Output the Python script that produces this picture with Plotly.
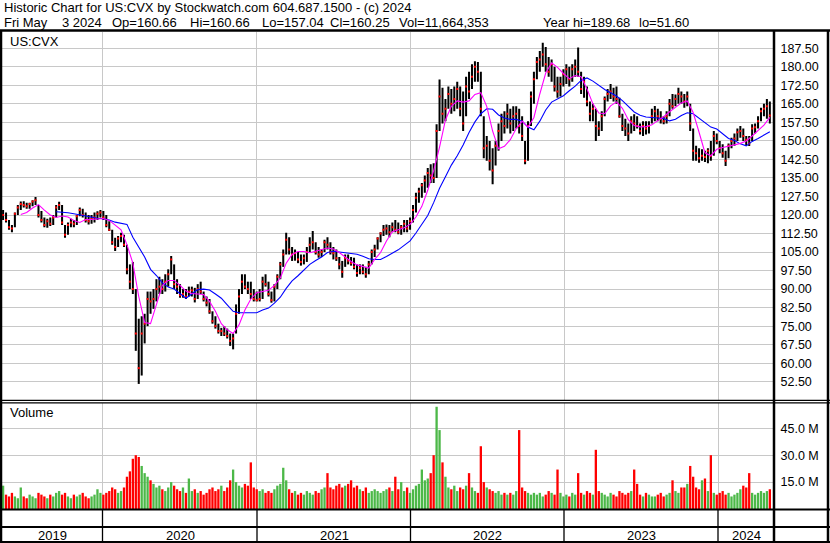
import pandas as pd
import plotly.graph_objects as go

# ---------------- data ----------------
week_start = "2019-05-10"          # weekly bars, one per Friday
high = [122,121,118,116,121,124,125.5,125.6,125,125,126,127.3,124,121.6,119,118.5,119,120,124,125.4,
        124,116,117,118.5,118,120,123,122.5,121,120,120,121,121.5,122,121.6,120,117.5,114,110.8,111.5,
        112.8,112,108,100,101,90,78,79,80,89,89,90,94,95,94,96,98,103.4,100,94,
        92,90,90,91,91,90.5,92,93,89,87,86,81,79,76,74.3,75,74,72,72,83.8,
        90,96,96,93,93,90,89,90,95,96,93,89,92,96,101,106,112.8,111,107,106,
        105,104,104,107,111,113.5,109,107,106,110,111,109,107,106,103,101.4,104,104,103,102.7,
        100,100,100,99,101.4,106,108,111,113,116,116.2,116,117,118,117,116,118,118,119,124,
        129,131,133,136,139,140.5,141,156.7,174.9,171.5,167,172,171,172,174,172,170,176,178,181,
        182.3,182,178,160,152,150,147,150,157,161,162,165,163,164,164,163,160,150,158,170,
        178,184,186.4,189.7,188,184,183,180,176,176,179,181,180,181,183,187.8,178,176,172,166,
        165,163,158,162,168,171,173,171.5,172,167.5,161,159,157,160,160.8,160,157,158,158,158,
        163,164.1,163,162,160,162,167,169,168.8,171.5,170,169,170,165,155,148,147,146.6,146,147,
        150,154,153,150,148.6,146,149,151.3,153,155,156,155,152,152,156.7,157,160,163.4,165,167,
        166]
low = [118,117,114,113,115,120,122,123,122.5,122.5,123.5,124,119,117,115,114.8,115.5,116,119,122,
       116,110.8,112,115,115,116,119.5,119,117,116.2,116.5,117,118,119,118,115,113.5,108,105.4,107,
       109,107,96,90,88,65,51.6,55,68,75,80,82,85,88,88,89,91,96,90,88,
       86.5,86.5,86,87,87,84.6,86,88,85,83,80,76,74,72,71,71,70,67,65.6,72,
       80,88,90,88,86,85,85,85,86,91,87,84.5,85,90,94,99,104,104,101.4,101.5,
       100.5,99.5,100,101,105,106,104,102.7,103,105,106,104,102,101.4,98,94.6,99,100,99.5,98,
       95,96,96,94.6,96,100,103,106,109,111.5,112,111,113,113,112.2,112,113,113,114,117,
       121,125,127,129,131,133,133,135,154,157,158,163,161,162,163,160,154,160,167,171,
       174,174,160,143,142,138,132.4,140,146,150,153,155,153,154,155,153,150,140.5,142,156,
       165,175,178,180,178,176,174,170,167.5,168,172,173,172,174,176,176,169,167.5,164,158,
       158,150,152,154,160,166,167,166,165,159.4,154,152,150,153,154,155,152.6,152,152.6,153,
       157,158,158,157,156.7,157,160,163,164,165,165,163.4,164,154,142,142,141.2,142,141.5,141,
       142,144,148.6,145,143.2,139.8,143,147,148,150,151.3,150,148,147.9,150,153,155,158,160,159,
       157]
close = [120,118,115,114.5,120.5,123,124.5,124,123.5,124.5,125.5,126,120,118,116,117.5,116.5,119,123,124,
         117,112,116,117,116.5,119.5,122,120,118,117.5,118.5,119,120.5,121,119,116,114,109,107,110.5,
         111.5,108,98,93,90,72,58,72,76,86,85,86,90,91,90,93,96,102,92,91,
         87.5,88,87,89,89.5,86,90,89,86,84.5,81,77,75,73,73,72,71,69,70,80,
         87,93,91,90,88,86,85.5,86,93,92,88,85.5,91,95,100,104,110,106,104,104.5,
         102,101,102.5,105,108,109,105,104,105,109,108,105,104.5,102.5,100,97,102.5,101.5,100.5,99,
         96.5,98.5,97,96,100,105,106,110.5,112.5,114,114.5,113,115,114,113,115,116.5,114.5,117.5,122,
         127,129.5,132,134,137,136,135,154,168,161,163,169,165,167,171,163,157,172,170,176,
         180,178,163,147,148,142,138,148,154,158,156,161,157,160,161,156,152,142,156,168,
         175,182,183,185,181,178,181,172,170,173,177,179,175,179,180,178,171,174,166,161,
         163,156,155,160,167,169,170,168,167,160,156,155,153,158,157,156,154,156,155,156,
         160,162,160,159,158,160,165,164,167,169,168,166,168,157,146,145,143,144,143.5,146,
         144,152,150,147,145,142,148,150,151,153.5,154,152,150.5,149,155,155.5,158,162,163,164,
         160.25]
volume_m = [13,8,7,9,7,6,12,7,6,8, 7,6,9,8,7,6,8,7,9,10, 8,9,7,6,8,7,8,9,7,6,
            7,8,11,9,8,9,10,12,11,9, 10,12,18,21,28,30,29,24,20,18, 16,14,12,13,11,10,12,15,13,11,
            10,12,9,17,10,11,9,10,8,9, 11,12,10,11,13,10,12,16,22,15, 13,12,14,13,26,12,11,10,11,9,
            10,9,11,13,14,23,16,11,9,10, 8,9,8,10,9,8,10,9,11,12, 20,12,11,13,14,12,13,14,16,12,
            13,11,10,12,9,10,11,10,9,10, 11,12,10,18,11,15,10,12,9,11, 13,14,22,16,17,20,30,57,44,26,
            18,12,11,13,10,12,11,13,20,12, 10,9,35,15,12,11,10,9,10,8, 9,8,9,8,10,44,12,10,9,8,
            9,8,9,7,8,10,9,8,22,9, 7,8,7,9,8,20,9,8,10,9, 8,33,10,9,8,7,9,8,7,10,
            9,8,9,10,22,14,8,7,9,8, 7,7,8,9,7,8,9,16,10,9, 12,12,14,24,18,12,11,16,17,10,
            30,9,8,9,10,8,9,7,8,9, 11,13,12,20,9,8,9,10,9,10, 11]

ma_start = "2019-05-10"            # moving-average readings, every two weeks
ma_fast = [None,None,None,120.2,121,122.8,124.2,122,120,119,119.6,119.2,117.8,117,118.2,118.2,118.4,118.6,117.8,116,
           114,108,100.5,87,76.5,76,83.5,91.5,93.5,93.5,91.5,89.2,88.2,88,87.8,85,81,76,73.5,72,
           75.5,81.5,86,88.5,89,89.5,91.5,94.5,100.5,104,105.2,105.2,104.7,105.4,106,106.6,106.2,104.8,103,101.2,
           99.8,99,98.5,102,104.8,109.5,113.2,114,114.8,116.2,119.2,123.5,130,138,147.5,158.5,164,166.2,165.7,166.2,
           168.8,169.5,164,154,146.8,147.8,150.5,155,158,155.5,159.5,169,177.5,181.6,179.8,177.3,175.2,176.5,176,171,
           165,161.3,161,164.2,165.8,163.2,158.6,156.2,155.7,155.8,156.5,158.2,159.8,161.8,163.5,165.4,166.2,161.5,153.5,145.2,
           144,146.6,147.3,148,148.4,149,150,152,154.3,156.4,159.5]
ma_slow = [None,None,None,None,None,None,None,None,None,121.3,121.2,120.9,120.5,120,119.5,119,118.7,118.5,118,117.1,
           116.7,116.2,111,107,103,98,95.5,92.5,90.8,90,88,86.3,88,89.8,90,89.6,88,86.3,83.6,81,
           80.4,80.4,80.4,80.4,81.5,82.3,84.3,86.7,90.3,93.3,95.4,97.6,100,101.6,103,104.8,105.3,105,104.7,104.4,
           104.1,103.3,102.3,102,102,103.2,104.5,105.9,107.7,109.5,112.7,116,119.8,125,130.8,135.5,140.2,144,148.3,153.4,
           157.7,161,163,162.8,160.5,159.3,158.7,158.7,158,155.6,154.5,158,162.5,165.7,167,168.3,170.3,172.2,174.5,175.5,
           174.2,172.4,170.8,169.5,168.2,166.3,164.2,161.7,160.4,159.7,159.5,159.3,159.1,158.1,158.8,160.3,161.4,161,159.2,157.5,
           155.6,154.8,153,151,150.2,148.8,148,149.8,151,152.3,153.7]

price_ticks = [52.5 + 7.5 * k for k in range(19)]
volume_ticks = [15, 30, 45]
volume_tick_text = ["15.0 M", "30.0 M", "45.0 M"]
year_bounds = ["2020-01-01", "2021-01-01", "2022-01-01", "2023-01-01", "2024-01-01"]
year_labels = ["2019", "2020", "2021", "2022", "2023", "2024"]

header1 = "Historic Chart for US:CVX by Stockwatch.com 604.687.1500 - (c) 2024"
header2 = ["Fri May", "3 2024", "Op=160.66", "Hi=160.66", "Lo=157.04", "Cl=160.25",
           "Vol=11,664,353", "Year hi=189.68", "lo=51.60"]

# ---------------- figure ----------------
W, H = 830, 543
def px(x): return x / W
def py(y): return 1 - y / H

dates = pd.date_range(week_start, periods=len(close), freq="7D")
ma_dates = pd.date_range(ma_start, periods=len(ma_fast), freq="14D")
DAY = 86400000

GREEN = "#4cb848"
RED = "#ff0000"
vol_colors = [GREEN] + [GREEN if close[i] >= close[i - 1] else RED for i in range(1, len(close))]

FONT = "Arial, 'Liberation Sans', sans-serif"
GRID = "#c8c8c8"

fig = go.Figure()
fig.add_trace(go.Bar(x=dates, y=[h - l for h, l in zip(high, low)], base=low,
                     width=4.8 * DAY, marker=dict(color="black", line=dict(width=0)),
                     xaxis="x", yaxis="y", showlegend=False, hoverinfo="skip"))
fig.add_trace(go.Scatter(x=dates, y=close, mode="markers",
                         marker=dict(symbol="square", size=2, color=RED, line=dict(width=0)),
                         xaxis="x", yaxis="y", showlegend=False, hoverinfo="skip"))
fig.add_trace(go.Scatter(x=ma_dates, y=ma_slow, mode="lines", line=dict(color="#0000ff", width=1.1),
                         xaxis="x", yaxis="y", showlegend=False, hoverinfo="skip"))
fig.add_trace(go.Scatter(x=ma_dates, y=ma_fast, mode="lines", line=dict(color="#ff00ff", width=1.1),
                         xaxis="x", yaxis="y", showlegend=False, hoverinfo="skip"))
fig.add_trace(go.Bar(x=dates, y=volume_m, width=5.5 * DAY,
                     marker=dict(color=vol_colors, line=dict(width=0)),
                     xaxis="x2", yaxis="y2", showlegend=False, hoverinfo="skip"))

x_range = ["2019-05-07 10:00", "2024-05-10 12:00"]
xcommon = dict(type="date", range=x_range, tickvals=year_bounds, showticklabels=False,
               showgrid=True, gridcolor=GRID, gridwidth=1, ticks="", zeroline=False,
               showline=False, domain=[px(2), px(773)])
fig.update_layout(
    width=W, height=H, margin=dict(l=0, r=0, t=0, b=0),
    paper_bgcolor="white", plot_bgcolor="white", barmode="overlay",
    font=dict(family=FONT, color="black", size=13),
    xaxis=dict(**xcommon, anchor="y"),
    xaxis2=dict(**xcommon, anchor="y2", matches="x"),
    yaxis=dict(domain=[py(400), py(31.5)], range=[45.09, 194.30], side="right", anchor="x",
               tickvals=price_ticks, ticktext=[f"{v:.2f}" for v in price_ticks],
               showgrid=True, gridcolor=GRID, gridwidth=1, zeroline=False,
               ticks="outside", ticklen=4, tickcolor="white",
               tickfont=dict(family=FONT, size=12.5, color="black")),
    yaxis2=dict(domain=[py(509), py(403)], range=[0, 59.1], side="right", anchor="x2",
                tickvals=volume_ticks, ticktext=volume_tick_text,
                showgrid=True, gridcolor=GRID, gridwidth=1, zeroline=False,
                ticks="outside", ticklen=4, tickcolor="white",
                tickfont=dict(family=FONT, size=12.5, color="black")),
)

shapes = []
def hline(y, w=2, x0=0, x1=W):
    shapes.append(dict(type="line", xref="paper", yref="paper", x0=px(x0), x1=px(x1),
                       y0=py(y), y1=py(y), line=dict(color="black", width=w)))
def vline(x, y0, y1, w=2):
    shapes.append(dict(type="line", xref="paper", yref="paper", x0=px(x), x1=px(x),
                       y0=py(y0), y1=py(y1), line=dict(color="black", width=w)))
hline(30.5, 2.5)
hline(400.3, 1.3)
hline(402.8, 1.3)
hline(509.5, 2)
hline(527, 2)
hline(542, 2)
vline(1, 30, 543, 2.5)
vline(774, 30, 543, 2.5)
vline(828, 30, 543, 2.5)
for xb in [102.5, 257, 410.5, 564, 718]:
    vline(xb, 510, 542, 1.3)
fig.update_layout(shapes=shapes)

ann = []
def text(x, y, s, size=13, anchor="left"):
    ann.append(dict(x=px(x), y=py(y), xref="paper", yref="paper", text=s, showarrow=False,
                    xanchor=anchor, yanchor="middle", font=dict(family=FONT, size=size, color="black")))
text(2, 8, header1)
for xs, s in zip([2, 60, 110, 188, 260, 328, 397, 541, 637], header2):
    text(xs, 22, s)
text(8, 41, "US:CVX")
text(8, 413, "Volume")
for xc, s in zip([52, 180, 334, 487, 641, 746], year_labels):
    text(xc, 535.5, s, anchor="center")
fig.update_layout(annotations=ann)

fig.write_html("out.html", config={"displayModeBar": False},
               post_script="document.body.style.margin='0';document.body.style.padding='0';")
